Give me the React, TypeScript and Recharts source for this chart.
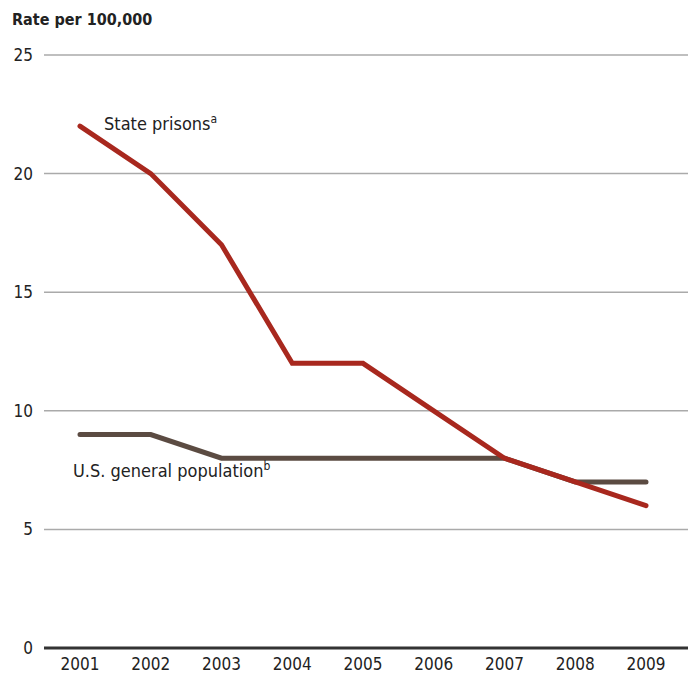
import { LineChart, Line, XAxis, YAxis, CartesianGrid } from 'recharts';

const years = ['2001', '2002', '2003', '2004', '2005', '2006', '2007', '2008', '2009'];
const statePrisons = [22, 20, 17, 12, 12, 10, 8, 7, 6];
const generalPopulation = [9, 9, 8, 8, 8, 8, 8, 7, 7];
const yTicks = [0, 5, 10, 15, 20, 25];

const data = years.map((year, i) => ({
  year,
  state: statePrisons[i],
  general: generalPopulation[i],
}));

const FONT = '"DejaVu Sans Condensed", "Liberation Sans Narrow", Roboto, sans-serif';

const seriesLabel = (text: string, sup: string, dx: number, dy: number) => (props: any) => {
  if (props.index !== 0) return null;
  return (
    <text
      x={props.x + dx}
      y={props.y + dy}
      fontFamily={FONT}
      fontSize={18}
      fill="#222"
      dominantBaseline="middle"
      style={{ fontStretch: 'condensed' }}
    >
      {text}
      <tspan fontSize={12} dy={-6}>
        {sup}
      </tspan>
    </text>
  );
};

const tickStyle = { fontFamily: FONT, fontSize: 17, fill: '#222', style: { fontStretch: 'condensed' } };

export default function App() {
  return (
    <div style={{ position: 'absolute', left: 0, top: 0, width: 688, height: 676, background: '#fff' }}>
      <div
        style={{
          position: 'absolute',
          left: 12,
          top: 10,
          fontFamily: FONT,
          fontWeight: 'bold',
          fontSize: 16,
          fontStretch: 'condensed',
          color: '#222',
        }}
      >
        Rate per 100,000
      </div>
      <LineChart width={688} height={676} data={data} margin={{ top: 55, right: 0, bottom: 0, left: 0 }}>
        <CartesianGrid vertical={false} stroke="#aaa" strokeWidth={1.5} />
        <XAxis
          dataKey="year"
          height={28}
          padding={{ left: 36, right: 42 }}
          axisLine={{ stroke: '#333', strokeWidth: 3 }}
          tickLine={false}
          tickSize={0}
          tickMargin={10}
          tick={tickStyle}
        />
        <YAxis
          width={44}
          domain={[0, 25]}
          ticks={yTicks}
          axisLine={false}
          tickLine={false}
          tickSize={0}
          tickMargin={11}
          tick={tickStyle}
        />
        <Line
          dataKey="general"
          stroke="#5b4b42"
          strokeWidth={5}
          strokeLinecap="round"
          dot={false}
          isAnimationActive={false}
          label={seriesLabel('U.S. general population', 'b', -7, 37)}
        />
        <Line
          dataKey="state"
          stroke="#a8281e"
          strokeWidth={5}
          strokeLinecap="round"
          dot={false}
          isAnimationActive={false}
          label={seriesLabel('State prisons', 'a', 24, -1)}
        />
      </LineChart>
    </div>
  );
}
